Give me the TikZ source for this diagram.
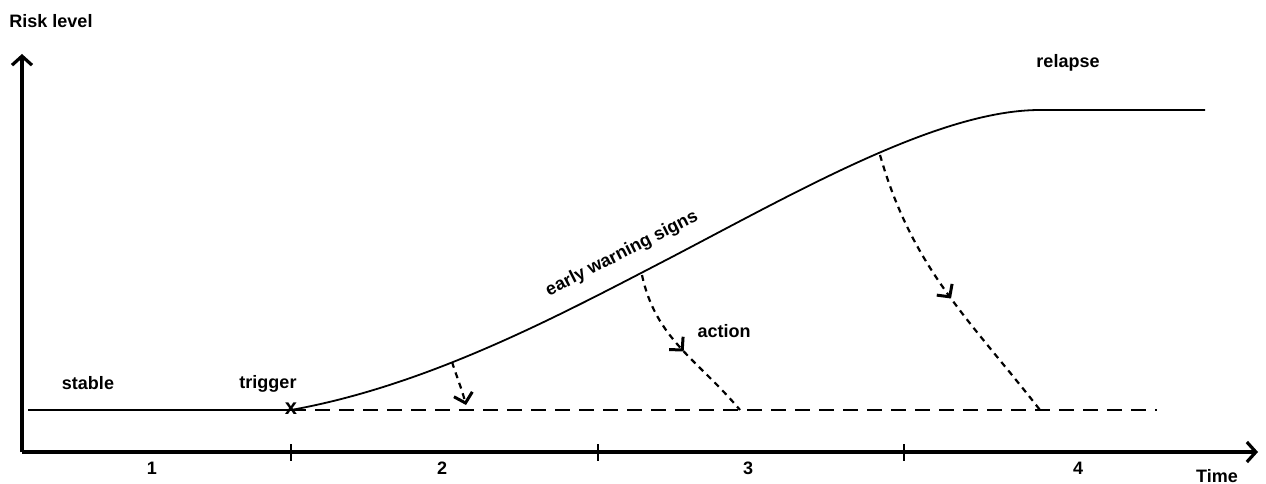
\documentclass[tikz,border=0pt]{standalone}
\usepackage{fontspec}
\setmainfont{Liberation Sans}
\usetikzlibrary{arrows.meta,decorations.markings}
\begin{document}
\begin{tikzpicture}[x=1pt,y=-1pt,
  lbl/.style={font=\fontsize{18}{20}\selectfont\bfseries, inner sep=0pt},
  axisline/.style={line width=3.2pt, -{Straight Barb[length=9pt,width=20pt,line width=3.2pt]}},
  actarrow/.style={line width=2.2pt, dash pattern=on 6pt off 5pt},
  tip/.style={decoration={markings, mark=at position #1 with {\arrow[solid,line width=3pt]{Straight Barb[length=9pt,width=19pt]}}}, postaction={decorate}}
]
\useasboundingbox (0,0) rectangle (1266,484);
% axes
\coordinate (O) at (22,452);
\coordinate (ytop) at (22,54);
\coordinate (xend) at (1258,452);
\draw[axisline] (O) -- (ytop);
\draw[axisline] (O) -- (xend);
% ticks
\foreach \x/\n in {291/t1,598/t2,904/t3}{
  \coordinate (\n a) at (\x,444);
  \coordinate (\n b) at (\x,461);
  \draw[line width=2.4pt] (\n a) -- (\n b);
}
% labels
\node[lbl] (risk) at (51,21) {Risk level};
\node[lbl] (time) at (1217,476) {Time};
\node[lbl] (n1) at (152,468) {1};
\node[lbl] (n2) at (442,468) {2};
\node[lbl] (n3) at (748,468) {3};
\node[lbl] (n4) at (1078,468) {4};
\node[lbl] (stable) at (88,383) {stable};
\node[lbl] (trigger) at (268,384) {trigger};
\node[lbl] (relapse) at (1068,63) {relapse};
\node[lbl] (action) at (724,331) {action};
\node[lbl, rotate=27] (ews) at (622,254) {early warning signs};
% baseline
\coordinate (s0) at (28,410);
\coordinate (trig) at (291,410);
\coordinate (d1) at (1157,410);
\draw[line width=2pt] (s0) -- (trig);
\draw[line width=2pt, dash pattern=on 15pt off 9pt] (trig) -- (d1);
\node[font=\fontsize{22}{22}\selectfont\bfseries, inner sep=0pt] (cross) at (291,409) {x};
% curve
\coordinate (mid) at (670,258);
\coordinate (top) at (1040,110);
\coordinate (endr) at (1205,110);
\draw[line width=1.8pt] (trig) .. controls (430,385) and (560,315) .. (mid)
   .. controls (800,190) and (940,110) .. (top) -- (endr);
% action arrows
\coordinate (a1s) at (452,362); \coordinate (a1e) at (466,405);
\coordinate (a2s) at (642,275); \coordinate (a2e) at (740,410);
\coordinate (a3s) at (880,155); \coordinate (a3e) at (1040,410);
\draw[actarrow, -{Straight Barb[length=9pt,width=19pt,line width=3pt]}] (a1s) to[out=-72,in=105] (a1e);
\draw[actarrow, tip=0.52] (a2s) to[out=-78,in=130] (a2e);
\draw[actarrow, tip=0.53] (a3s) to[out=-74,in=128] (a3e);
\end{tikzpicture}
\end{document}
